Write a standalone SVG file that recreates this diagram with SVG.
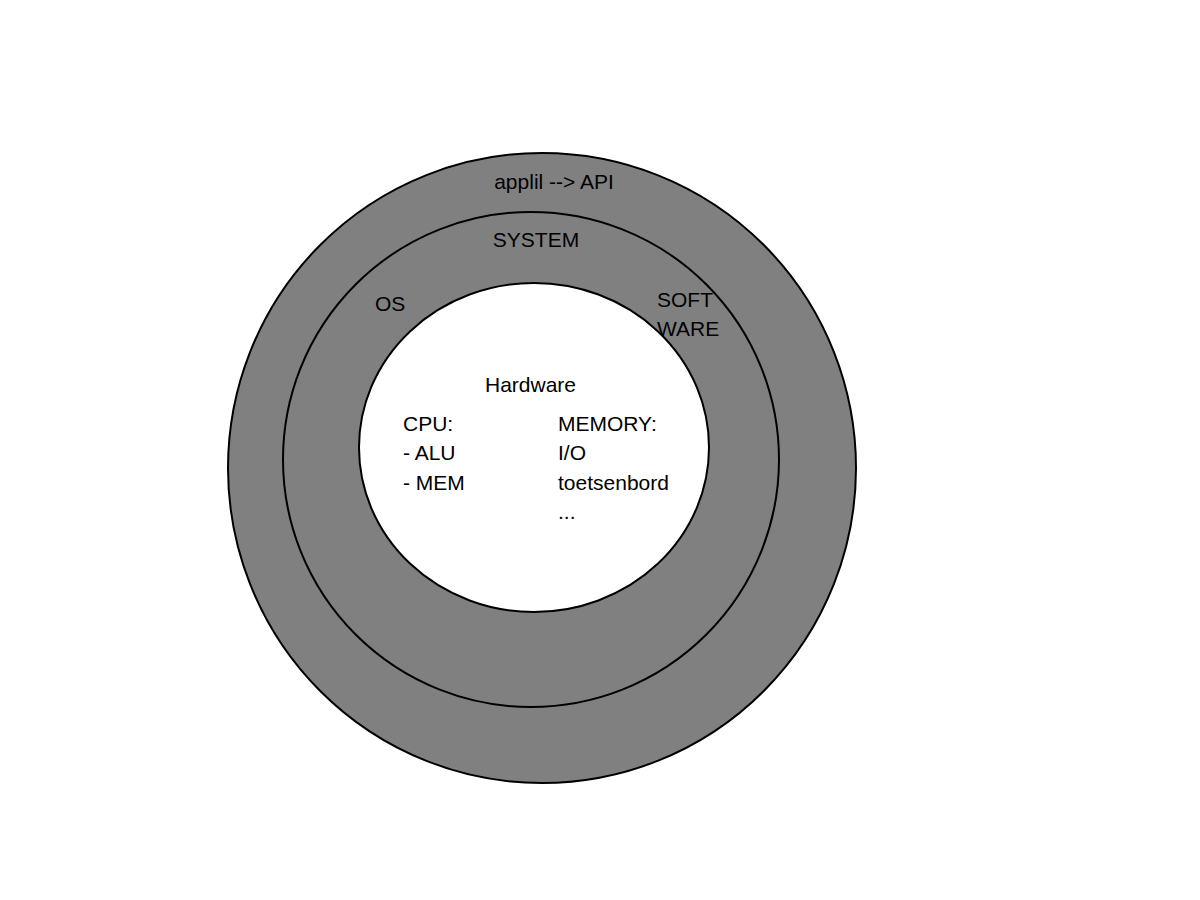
<svg xmlns="http://www.w3.org/2000/svg" width="1200" height="900" viewBox="0 0 1200 900">
<style>
.ring{fill:#808080;stroke:#000;stroke-width:2}
.core{fill:#fff;stroke:#000;stroke-width:2}
text{font-family:"Liberation Sans",Arial,sans-serif;font-size:21px;fill:#000}
</style>
<rect width="1200" height="900" fill="#fff"/>
<g id="outer">
<ellipse class="ring" cx="542" cy="468" rx="314" ry="315"/>
<text x="554" y="189" text-anchor="middle">applil --&gt; API</text>
</g>
<g id="middle">
<ellipse class="ring" cx="531" cy="459.5" rx="248" ry="247.5"/>
<text x="536" y="247" text-anchor="middle">SYSTEM</text>
<text x="375" y="311">OS</text>
<text x="657" y="307">SOFT</text>
<text x="657" y="336">WARE</text>
</g>
<g id="inner">
<ellipse class="core" cx="534" cy="447.5" rx="175" ry="164.5"/>
<text x="530.5" y="392" text-anchor="middle">Hardware</text>
<text x="403" y="431">CPU:</text>
<text x="403" y="460">- ALU</text>
<text x="403" y="490">- MEM</text>
<text x="558" y="431">MEMORY:</text>
<text x="558" y="460">I/O</text>
<text x="558" y="490">toetsenbord</text>
<text x="558" y="519">...</text>
</g>
<g id="connectors"></g>
</svg>
